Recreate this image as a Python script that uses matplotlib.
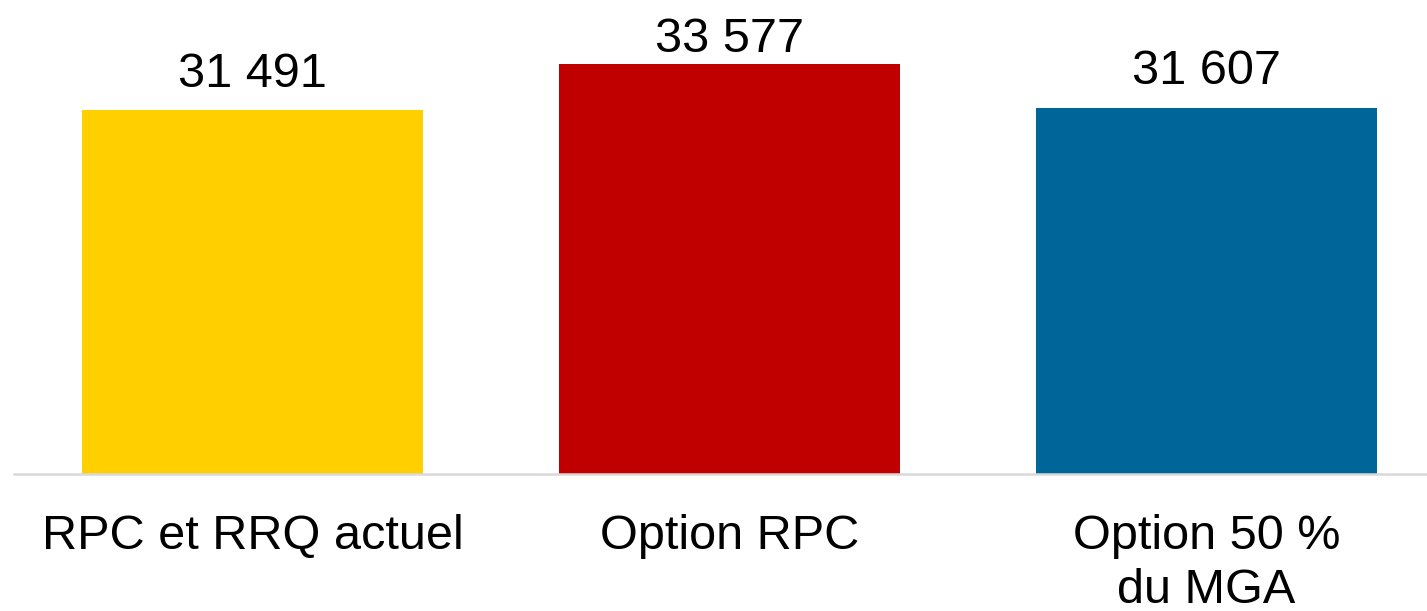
import matplotlib
matplotlib.use("Agg")
import matplotlib.pyplot as plt

categories = ["RPC et RRQ actuel", "Option RPC", "Option 50 %\ndu MGA"]
values = [31491, 33577, 31607]
value_labels = ["31 491", "33 577", "31 607"]
colors = ["#FFCF00", "#C00000", "#006699"]
label_offsets_pt = [16.5, 9.0, 17.0]

plt.rcParams['font.family'] = ['Liberation Sans', 'DejaVu Sans']

W, H = 1427, 611
fig = plt.figure(figsize=(W / 100, H / 100), dpi=100)
ax = fig.add_axes([14 / W, 137 / H, (1445 - 14) / W, 441 / H])

x = list(range(len(values)))
ax.bar(x, values, width=0.715, color=colors, zorder=1)
ax.set_xlim(-0.5, 2.5)
ax.set_ylim(15000, 35000)

for s in ["top", "left", "right"]:
    ax.spines[s].set_visible(False)
ax.spines["bottom"].set_color("#D9D9D9")
ax.spines["bottom"].set_linewidth(1.8)
ax.set_yticks([])
ax.set_xticks([])

for i, (v, lab, off) in enumerate(zip(values, value_labels, label_offsets_pt)):
    ax.annotate(lab, xy=(i, v), xytext=(0, off), textcoords="offset points",
                ha="center", va="baseline", fontsize=35, color="black")

for i, cat in enumerate(categories):
    ax.annotate(cat, xy=(i, 0), xycoords=("data", "axes fraction"),
                xytext=(0, -28.5), textcoords="offset points",
                ha="center", va="top", fontsize=35, color="black",
                linespacing=1.27, annotation_clip=False)

fig.savefig("out.png", dpi=100)
